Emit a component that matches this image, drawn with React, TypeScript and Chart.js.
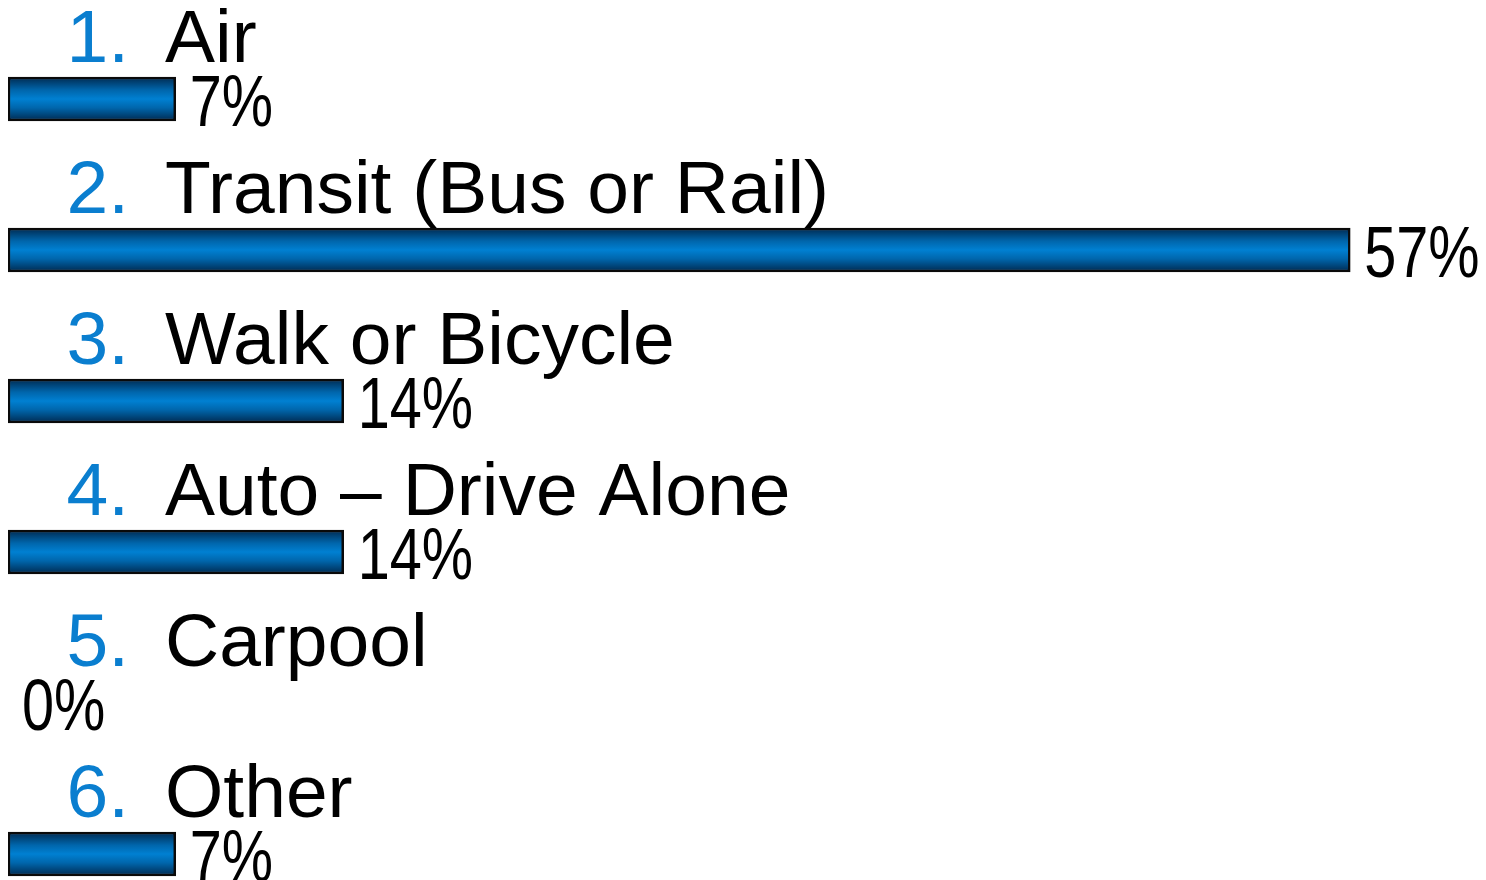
import React, { useEffect, useRef } from "react";
import { Chart, registerables } from "chart.js";

Chart.register(...registerables);

const categories = ["Air", "Transit (Bus or Rail)", "Walk or Bicycle", "Auto – Drive Alone", "Carpool", "Other"];
const numbers = ["1.", "2.", "3.", "4.", "5.", "6."];
const values = [7.14, 57.14, 14.29, 14.29, 0, 7.14];
const valueLabels = ["7%", "57%", "14%", "14%", "0%", "7%"];

const BAR_H = 44;

export default function App() {
  const ref = useRef<HTMLCanvasElement>(null);
  useEffect(() => {
    document.documentElement.style.overflow = "hidden";
    const canvas = ref.current!;
    const labelPlugin = {
      id: "labels",
      afterDatasetsDraw(chart: any) {
        const ctx = chart.ctx as CanvasRenderingContext2D;
        const y = chart.scales.y;
        const x = chart.scales.x;
        ctx.save();
        categories.forEach((cat, i) => {
          const cy = y.getPixelForValue(i);
          ctx.textBaseline = "alphabetic";
          ctx.font = '75px "Liberation Sans", Arial, sans-serif';
          ctx.fillStyle = "#0A7ECF";
          ctx.textAlign = "right";
          ctx.fillText(numbers[i], 121, cy - 37);
          ctx.fillStyle = "#000";
          ctx.textAlign = "left";
          ctx.fillText(cat, 157, cy - 37);
          const xe = x.getPixelForValue(values[i]);
          ctx.save();
          ctx.translate(xe + 14, cy + 27);
          ctx.scale(0.79, 1);
          ctx.font = '73px "Liberation Sans", Arial, sans-serif';
          ctx.fillText(valueLabels[i], 0, 0);
          ctx.restore();
        });
        ctx.restore();
      },
    };
    const chart = new Chart(canvas, {
      type: "bar",
      data: {
        labels: categories,
        datasets: [
          {
            data: values,
            barThickness: BAR_H,
            borderWidth: 2.5,
            borderColor: "#0A0A0A",
            borderSkipped: false,
            clip: false as any,
            backgroundColor: (c: any) => {
              const chart = c.chart;
              const ys = chart.scales?.y;
              if (!ys) return "#0080D0";
              const cy = ys.getPixelForValue(c.dataIndex);
              if (!Number.isFinite(cy)) return "#0080D0";
              const g = chart.ctx.createLinearGradient(0, cy - BAR_H / 2, 0, cy + BAR_H / 2);
              g.addColorStop(0, "#00294F");
              g.addColorStop(0.3, "#0066AC");
              g.addColorStop(0.5, "#0080D2");
              g.addColorStop(0.7, "#0066AC");
              g.addColorStop(1, "#00294F");
              return g;
            },
          },
        ],
      },
      options: {
        indexAxis: "y",
        animation: false,
        responsive: false,
        maintainAspectRatio: false,
        layout: { padding: { left: 0, right: 68.6, top: 91, bottom: 26 } },
        plugins: { legend: { display: false }, tooltip: { enabled: false } },
        scales: {
          x: { display: false, min: 0, max: 60 },
          y: { display: false, offset: false, grid: { offset: false } },
        },
      },
      plugins: [labelPlugin],
    });
    return () => chart.destroy();
  }, []);
  return (
    <div style={{ width: 1478, height: 872, overflow: "hidden" }}>
      <canvas ref={ref} width={1478} height={872} style={{ display: "block" }} />
    </div>
  );
}
